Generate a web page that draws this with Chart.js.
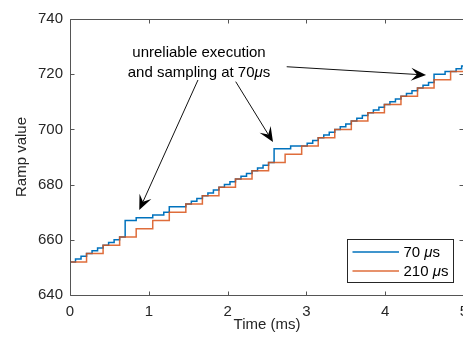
<!DOCTYPE html>
<html><head><meta charset="utf-8">
<script src="https://cdn.jsdelivr.net/npm/chart.js@4.4.1/dist/chart.umd.min.js"></script>
<style>
html,body{margin:0;padding:0;background:#fff;overflow:hidden;width:463px;height:343px}
#wrap{position:absolute;left:0;top:0;width:500px;height:343px}
</style>
</head><body><div id="wrap"><canvas id="c"></canvas></div>
<script>
// ---- data ----
const seriesLabels = ['70 μs', '210 μs'];
const blueTimes = [0,0.07,0.14,0.21,0.28,0.35,0.42,0.49,0.56,0.63,0.70,0.77,0.84,0.91,0.98,1.05,1.12,1.19,1.26,1.33,1.40,1.47,1.54,1.61,1.68,1.75,1.82,1.89,1.96,2.03,2.10,2.17,2.24,2.31,2.38,2.45,2.52,2.59,2.66,2.73,2.80,2.87,2.94,3.01,3.08,3.15,3.22,3.29,3.36,3.43,3.50,3.57,3.64,3.71,3.78,3.85,3.92,3.99,4.06,4.13,4.20,4.27,4.34,4.41,4.48,4.55,4.62,4.69,4.76,4.83,4.90,4.97,5.04];
const blueValues = [652,653,654,655,656,657,658,659,660,661,667,667,668,668,668,669,669,670,672,672,672,673,674,675,676,677,678,679,680,681,682,683,684,685,686,687,688,693,693,693,694,694,694,695,696,697,698,699,700,701,702,703,704,705,706,707,708,709,710,711,712,713,714,715,716,717,720,720,721,721,722,723,724];
const orangeTimes = [0,0.21,0.42,0.63,0.84,1.05,1.26,1.47,1.68,1.89,2.10,2.31,2.52,2.73,2.94,3.15,3.36,3.57,3.78,3.99,4.20,4.41,4.62,4.83,5.04];
const orangeValues = [652,655,658,661,664,667,670,673,676,679,682,685,688,691,694,697,700,703,706,709,712,715,718,721,724];
const xTickValues = [0,1,2,3,4,5];
const yTickValues = [640,660,680,700,720,740];
const xTitle = 'Time (ms)';
const yTitle = 'Ramp value';
const noteLines = ['unreliable execution', 'and sampling at 70μs'];

// ---- annotation placement (data coordinates) ----
const noteAnchor = {x: 1.637, y1: 726.3, y2: 719.1};
const arrows = [
  {from: [1.624, 717.9], to: [0.879, 670.8]},
  {from: [2.103, 717.3], to: [2.576, 695.4]},
  {from: [2.750, 722.7], to: [4.518, 719.7]}
];

const FONT = '"Liberation Sans", Arial, Helvetica, sans-serif';
const TXT = '#262626';
const AX = '#555555';
const colors = ['#0072BD', 'rgba(217,83,25,0.85)'];

function toXY(ts, vs){ return ts.map((t,i)=>({x:t, y:vs[i]})); }

function drawMixed(ctx, text, x, y, size, align){
  const parts = text.split('μ');
  const segs = [];
  parts.forEach((p,i)=>{ if(p) segs.push({t:p, it:false}); if(i<parts.length-1) segs.push({t:'μ', it:true}); });
  let w = 0;
  segs.forEach(s=>{ ctx.font = (s.it?'italic ':'') + size + 'px ' + FONT; s.w = ctx.measureText(s.t).width; w += s.w; });
  let cx = align === 'center' ? x - w/2 : x;
  ctx.textAlign = 'left';
  segs.forEach(s=>{ ctx.font = (s.it?'italic ':'') + size + 'px ' + FONT; ctx.fillText(s.t, cx, y); cx += s.w; });
}

const decor = {
  id: 'decor',
  afterDatasetsDraw(chart){
    const ctx = chart.ctx, xs = chart.scales.x, ys = chart.scales.y, a = chart.chartArea;
    ctx.save();
    const L = Math.round(a.left)+0.5, R = Math.round(a.right)-0.5, T = Math.round(a.top)+0.5, B = Math.round(a.bottom)+0.5;
    ctx.strokeStyle = AX; ctx.lineWidth = 1;
    ctx.beginPath();
    ctx.moveTo(L, B); ctx.lineTo(L, T); ctx.lineTo(R, T); ctx.lineTo(R, B); ctx.lineTo(L, B);
    ctx.stroke();
    ctx.beginPath();
    xs.ticks.forEach(t=>{ const px = Math.round(xs.getPixelForValue(t.value))+0.5; ctx.moveTo(px, B); ctx.lineTo(px, B-4); ctx.moveTo(px, T); ctx.lineTo(px, T+4); });
    ys.ticks.forEach(t=>{ const py = Math.round(ys.getPixelForValue(t.value))+0.5; ctx.moveTo(L, py); ctx.lineTo(L+4, py); ctx.moveTo(R, py); ctx.lineTo(R-4, py); });
    ctx.stroke();
    ctx.fillStyle = '#000'; ctx.textBaseline = 'alphabetic';
    const nx = xs.getPixelForValue(noteAnchor.x);
    drawMixed(ctx, noteLines[0], nx, ys.getPixelForValue(noteAnchor.y1), 15, 'center');
    drawMixed(ctx, noteLines[1], nx, ys.getPixelForValue(noteAnchor.y2), 15, 'center');
    arrows.forEach(ar=>{
      const x0 = xs.getPixelForValue(ar.from[0]), y0 = ys.getPixelForValue(ar.from[1]);
      const x1 = xs.getPixelForValue(ar.to[0]), y1 = ys.getPixelForValue(ar.to[1]);
      const dx = x1-x0, dy = y1-y0, len = Math.hypot(dx,dy), ux = dx/len, uy = dy/len;
      const hl = 15, hw = 6.5, notch = 9;
      ctx.strokeStyle = '#111'; ctx.lineWidth = 1;
      ctx.beginPath(); ctx.moveTo(x0,y0); ctx.lineTo(x1-ux*notch, y1-uy*notch); ctx.stroke();
      ctx.fillStyle = '#000';
      ctx.beginPath();
      ctx.moveTo(x1, y1);
      ctx.lineTo(x1-ux*hl - uy*hw, y1-uy*hl + ux*hw);
      ctx.lineTo(x1-ux*notch, y1-uy*notch);
      ctx.lineTo(x1-ux*hl + uy*hw, y1-uy*hl - ux*hw);
      ctx.closePath(); ctx.fill();
    });
    const bw = 106, bh = 43;
    const bx = Math.round(a.right - 11.3 - bw)+0.5, by = Math.round(a.bottom - 12.7 - bh)+0.5;
    ctx.fillStyle = '#fff'; ctx.fillRect(bx, by, bw, bh);
    ctx.strokeStyle = '#262626'; ctx.lineWidth = 1; ctx.strokeRect(bx, by, bw, bh);
    chart.data.datasets.forEach((ds,i)=>{
      const ly = by + 12.5 + i*19;
      ctx.strokeStyle = ds.borderColor; ctx.lineWidth = 1.5;
      ctx.beginPath(); ctx.moveTo(bx+5, ly); ctx.lineTo(bx+51.5, ly); ctx.stroke();
      ctx.fillStyle = '#000'; ctx.textBaseline = 'middle';
      drawMixed(ctx, ds.label, bx+56, ly+0.5, 15, 'left');
    });
    ctx.restore();
  }
};

new Chart(document.getElementById('c'), {
  type: 'line',
  data: {
    datasets: [
      {label: seriesLabels[0], data: toXY(blueTimes, blueValues), borderColor: colors[0], borderWidth: 1.5, pointRadius: 0, stepped: true, fill: false, order: 1},
      {label: seriesLabels[1], data: toXY(orangeTimes, orangeValues), borderColor: colors[1], borderWidth: 1.5, pointRadius: 0, stepped: true, fill: false, order: 0}
    ]
  },
  options: {
    responsive: true, maintainAspectRatio: false, animation: false,
    layout: {padding: {left: 0, right: 36, top: 19, bottom: 0}},
    plugins: {legend: {display: false}, tooltip: {enabled: false}},
    scales: {
      x: {
        type: 'linear', min: 0, max: 5,
        afterBuildTicks: s => { s.ticks = xTickValues.map(v=>({value:v})); },
        grid: {display: false, drawTicks: false}, border: {display: false},
        ticks: {color: TXT, font: {family: FONT, size: 15}, padding: 8, maxRotation: 0, autoSkip: false},
        title: {display: true, text: xTitle, color: TXT, font: {family: FONT, size: 15}, padding: {top: 0, bottom: 9}},
        afterFit: s => { s.height = 48; s.paddingLeft = 0; s.paddingRight = 0; }
      },
      y: {
        type: 'linear', min: 640, max: 740,
        afterBuildTicks: s => { s.ticks = yTickValues.map(v=>({value:v})); },
        grid: {display: false, drawTicks: false}, border: {display: false},
        ticks: {color: TXT, font: {family: FONT, size: 15}, padding: 7},
        title: {display: true, text: yTitle, color: TXT, font: {family: FONT, size: 15}, padding: {top: 13, bottom: 0}},
        afterFit: s => { s.width = 70; s.paddingTop = 0; s.paddingBottom = 0; }
      }
    }
  },
  plugins: [decor]
});
</script>
</body></html>
